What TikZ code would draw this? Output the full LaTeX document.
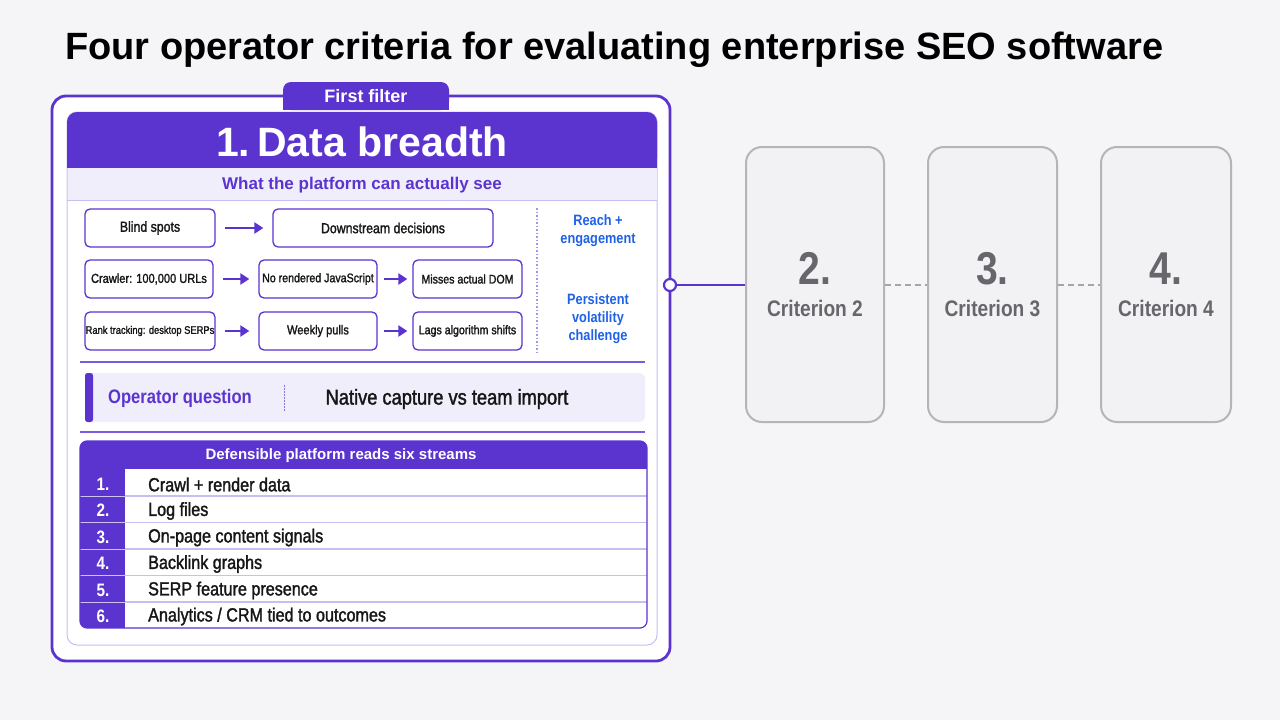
\documentclass[tikz,border=0pt]{standalone}
\usepackage{fontspec}
\setmainfont{Liberation Sans}
\newfontfamily\nf[FakeStretch=0.85]{Liberation Sans}
\newfontfamily\nfm[FakeStretch=0.85,FakeBold=1.6]{Liberation Sans}
\usetikzlibrary{arrows.meta}
\definecolor{bg}{HTML}{F5F5F7}
\definecolor{pm}{HTML}{5B34D0}
\definecolor{pline}{HTML}{7A5CE0}
\definecolor{plight}{HTML}{C8BEF2}
\definecolor{lav}{HTML}{F1EEFC}
\definecolor{blu}{HTML}{1F62E6}
\definecolor{ink}{HTML}{161616}
\definecolor{gbord}{HTML}{B4B4B9}
\definecolor{gdash}{HTML}{A4A4AA}
\definecolor{gfill}{HTML}{F2F2F4}
\definecolor{gtxt}{HTML}{66666B}
\tikzset{
  fbox/.style={draw=pm, line width=1.3pt, rounded corners=5pt, fill=white,
    minimum height=38pt, inner sep=0pt, text=ink},
  farr/.style={draw=pm, line width=2.2pt, -{Triangle[length=9pt,width=11pt]},
    shorten <=9pt, shorten >=9pt},
  bluetxt/.style={text=blu, align=center, font=\nf\bfseries\fontsize{15}{18}\selectfont},
  numcell/.style={text=white, font=\nf\bfseries\fontsize{18}{20}\selectfont},
  rowtxt/.style={text=ink, anchor=west, font=\nfm\fontsize{19}{21}\selectfont, inner sep=0pt},
  gbox/.style={draw=gbord, line width=2pt, fill=gfill, rounded corners=16pt,
    minimum height=275pt, inner sep=0pt},
  gnum/.style={text=gtxt, anchor=base, font=\nf\bfseries\fontsize{46}{50}\selectfont},
  glab/.style={text=gtxt, anchor=base, font=\nf\bfseries\fontsize{22.5}{26}\selectfont},
}
\begin{document}
\begin{tikzpicture}[x=1pt,y=-1pt]
\fill[bg] (0,0) rectangle (1280,720);
\useasboundingbox (0,0) rectangle (1280,720);

% title
\node[anchor=base west, inner sep=0pt, text=black, font=\bfseries\fontsize{38}{44}\selectfont] (title) at (65,59)
  {Four operator criteria for evaluating enterprise SEO software};

% outer card
\node[draw=pm, line width=2.8pt, fill=white, rounded corners=14pt,
  minimum width=618pt, minimum height=565pt, inner sep=0pt] (card) at (361,378.5) {};

% tab
\fill[pm, rounded corners=8pt] (283,82) rectangle (449,110);
\fill[pm] (283,98) rectangle (449,110);
\node[text=white, font=\bfseries\fontsize{18}{20}\selectfont] (tab) at (366,96.5) {First filter};

% inner panel
\draw[plight, line width=1pt, rounded corners=10pt] (67,112) rectangle (657,645);
\fill[pm, rounded corners=10pt] (67,112) rectangle (657,168);
\fill[pm] (67,140) rectangle (657,168);
\node[text=white, font=\bfseries\fontsize{41}{44}\selectfont] (head) at (362,141.5) {1.\,Data breadth};
\fill[lav] (67.5,168) rectangle (656.5,200);
\draw[plight, line width=1pt] (67,200) -- (657,200);
\node[text=pm, font=\bfseries\fontsize{17}{20}\selectfont] (sub) at (362,185) {What the platform can actually see};

% flow rows
\node[fbox, minimum width=130pt, font=\nfm\fontsize{14.5}{16}\selectfont] (b1) at (150,228) {Blind spots};
\node[fbox, minimum width=220pt, font=\nfm\fontsize{14.5}{16}\selectfont] (b2) at (383,228) {Downstream decisions};
\node[fbox, minimum width=128pt, font=\nfm\fontsize{13}{15}\selectfont] (c1) at (149,279) {Crawler: 100,000 URLs};
\node[fbox, minimum width=118pt, font=\nfm\fontsize{12.5}{15}\selectfont] (c2n) at (318,279) {No rendered JavaScript};
\node[fbox, minimum width=109pt, font=\nfm\fontsize{12.5}{15}\selectfont] (c3n) at (467.5,279) {Misses actual DOM};
\node[fbox, minimum width=130pt, font=\nfm\fontsize{11}{13}\selectfont] (d1) at (150,331) {Rank tracking: desktop SERPs};
\node[fbox, minimum width=118pt, font=\nfm\fontsize{13}{15}\selectfont] (d2) at (318,331) {Weekly pulls};
\node[fbox, minimum width=109pt, font=\nfm\fontsize{12.5}{15}\selectfont] (d3) at (467.5,331) {Lags algorithm shifts};
\draw[farr] (b1) -- (b2);
\draw[farr] (c1) -- (c2n);
\draw[farr, shorten <=6pt, shorten >=5pt] (c2n) -- (c3n);
\draw[farr] (d1) -- (d2);
\draw[farr, shorten <=6pt, shorten >=5pt] (d2) -- (d3);

\coordinate (vt) at (537,208);
\coordinate (vb) at (537,353);
\draw[plight!70!pm, line width=1.2pt, dash pattern=on 1.5pt off 2pt] (vt) -- (vb);
\node[bluetxt] (reach) at (598,231) {Reach +\\engagement};
\node[bluetxt] (pers) at (598,319) {Persistent\\volatility\\challenge};

% separator
\draw[pline, line width=1.5pt] (80,362) -- (645,362);

% operator question
\fill[lav, rounded corners=5pt] (85,373) rectangle (645,422);
\fill[pm, rounded corners=2.5pt] (85,373) rectangle (93,422);
\node[anchor=west, text=pm, font=\nf\bfseries\fontsize{19.5}{22}\selectfont, inner sep=0pt] (opq) at (108,398.5) {Operator question};
\coordinate (ot) at (284,385);
\coordinate (ob) at (284,411);
\draw[pm!70, line width=1pt, dash pattern=on 1.5pt off 1.5pt] (ot) -- (ob);
\node[text=ink, font=\nfm\fontsize{21.5}{24}\selectfont] (nat) at (447,399) {Native capture vs team import};

\draw[pline, line width=1.5pt] (80,432) -- (645,432);

% table
\begin{scope}
\clip[rounded corners=7pt] (80,441) rectangle (647,628);
\fill[white] (80,441) rectangle (647,628);
\fill[pm] (80,441) rectangle (647,469);
\fill[pm] (80,469) rectangle (125,628);
\foreach \yy in {496,522.5,549,575.5,602} {
  \draw[plight, line width=1.2pt] (125,\yy) -- (647,\yy);
  \draw[white!70!pm, line width=1pt] (80,\yy) -- (125,\yy);
}
\end{scope}
\draw[pm, line width=1.2pt, rounded corners=7pt] (80,441) rectangle (647,628);
\node[text=white, font=\bfseries\fontsize{15}{18}\selectfont] (th) at (341,456) {Defensible platform reads six streams};

\node[numcell] (n1) at (103,484) {1.};
\node[numcell] (n2) at (103,510.5) {2.};
\node[numcell] (n3) at (103,537) {3.};
\node[numcell] (n4) at (103,563.5) {4.};
\node[numcell] (n5) at (103,590) {5.};
\node[numcell] (n6) at (103,616) {6.};
\node[rowtxt] (r1) at (148,484.5) {Crawl + render data};
\node[rowtxt] (r2) at (148,511) {Log files};
\node[rowtxt] (r3) at (148,537.5) {On-page content signals};
\node[rowtxt] (r4) at (148,564) {Backlink graphs};
\node[rowtxt] (r5) at (148,590.5) {SERP feature presence};
\node[rowtxt] (r6) at (148,616.5) {Analytics / CRM tied to outcomes};

% criteria
\node[gbox, minimum width=138pt] (k2) at (815,284.5) {};
\node[gbox, minimum width=129pt] (k3) at (992.5,284.5) {};
\node[gbox, minimum width=130pt] (k4) at (1166,284.5) {};
\node[gnum] (k2n) at (815,284) {2.};
\node[glab] (k2l) at (815,316) {Criterion 2};
\node[gnum] (k3n) at (992.5,284) {3.};
\node[glab] (k3l) at (992.5,316) {Criterion 3};
\node[gnum] (k4n) at (1166,284) {4.};
\node[glab] (k4l) at (1166,316) {Criterion 4};

\node[circle, draw=pm, fill=white, line width=2.2pt, minimum size=12pt, inner sep=0pt] (dot) at (670,285) {};
\draw[pm, line width=2.5pt] (dot) -- (k2.west |- dot);
\draw[gdash, line width=2pt, dash pattern=on 6pt off 4pt] (k2.east) -- (k3.west);
\draw[gdash, line width=2pt, dash pattern=on 6pt off 4pt] (k3.east) -- (k4.west);
\end{tikzpicture}
\end{document}
